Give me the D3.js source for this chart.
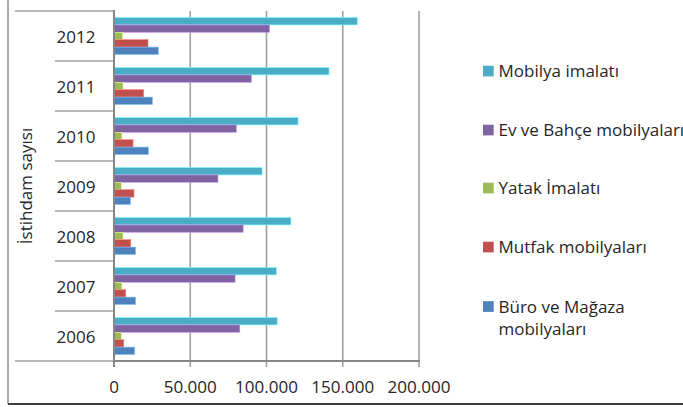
<!DOCTYPE html>
<html>
<head>
<meta charset="utf-8">
<script src="https://cdn.jsdelivr.net/npm/d3@7"></script>
<style>
  body { margin: 0; background: #fff; }
  svg text { font-family: "Open Sans", "Noto Sans", sans-serif; fill: #262626; }
</style>
</head>
<body>
<div id="chart"></div>
<script>
// years, top row first
var years = ["2012", "2011", "2010", "2009", "2008", "2007", "2006"];
var seriesNames = ["Mobilya imalatı", "Ev ve Bahçe mobilyaları", "Yatak İmalatı", "Mutfak mobilyaları", "Büro ve Mağaza mobilyaları"];
var seriesColors = ["#4bacc6", "#8064a2", "#9bbb59", "#c0504d", "#4f81bd"];

var mobilya  = [159500, 141000, 120700, 97100, 116000, 106500, 107000];
var evBahce  = [102000, 90100, 80300, 68200, 84700, 79400, 82500];
var yatak    = [5700, 5900, 5200, 4800, 5900, 5200, 4800];
var mutfak   = [22300, 19500, 12500, 13100, 11000, 7700, 6400];
var buro     = [29100, 25200, 22600, 10800, 14200, 14200, 13600];

var tickValues = [0, 50000, 100000, 150000, 200000];
var tickLabels = ["0", "50.000", "100.000", "150.000", "200.000"];

var allSeries = [mobilya, evBahce, yatak, mutfak, buro];

var W = 683, H = 407;
var svg = d3.select("#chart").append("svg")
  .attr("width", W).attr("height", H);

var x = d3.scaleLinear().domain([0, 200000]).range([114, 419]);
var y = d3.scaleBand().domain(years).range([11, 361]);
var yInner = d3.scaleBand().domain(seriesNames).range([0, y.bandwidth()])
  .paddingInner(0).paddingOuter(0.88);

// outer frame
svg.append("line").attr("x1", 8).attr("x2", 8).attr("y1", 0).attr("y2", 404)
  .attr("stroke", "#8c8c8c").attr("stroke-width", 1.5);
svg.append("line").attr("x1", 8).attr("x2", W).attr("y1", 404).attr("y2", 404)
  .attr("stroke", "#404040").attr("stroke-width", 2);

// gridlines + ticks
svg.selectAll(".grid").data(tickValues.slice(1)).enter().append("line")
  .attr("x1", function(d){ return x(d); }).attr("x2", function(d){ return x(d); })
  .attr("y1", 11).attr("y2", 367)
  .attr("stroke", "#a0a0a0").attr("stroke-width", 1.6);

// category separators
var bounds = years.map(function(d){ return y(d); }).concat([y.range()[1]]);
svg.selectAll(".sep").data(bounds).enter().append("line")
  .attr("x1", function(d, i){ return (i == 0 || i == bounds.length - 1) ? 15 : 55; })
  .attr("x2", 114)
  .attr("y1", function(d){ return d; }).attr("y2", function(d){ return d; })
  .attr("stroke", "#a0a0a0").attr("stroke-width", 1.6);

// bars
years.forEach(function(yr, i) {
  var g = svg.append("g").attr("transform", "translate(0," + y(yr) + ")");
  g.selectAll("rect").data(seriesNames).enter().append("rect")
    .attr("x", x(0))
    .attr("y", function(s){ return yInner(s); })
    .attr("width", function(s, k){ return x(allSeries[k][i]) - x(0); })
    .attr("height", yInner.bandwidth())
    .attr("fill", function(s, k){ return seriesColors[k]; })
    .attr("stroke", function(s, k){ return d3.color(seriesColors[k]).brighter(1.2); })
    .attr("stroke-width", 0.6);
});

// axis lines
svg.append("line").attr("x1", 114).attr("x2", 114).attr("y1", 10).attr("y2", 367)
  .attr("stroke", "#868686").attr("stroke-width", 2);
svg.append("line").attr("x1", 114).attr("x2", 420).attr("y1", 361).attr("y2", 361)
  .attr("stroke", "#868686").attr("stroke-width", 2);

// tick labels
svg.selectAll(".tl").data(tickValues).enter().append("text")
  .attr("x", function(d){ return x(d); }).attr("y", 393)
  .attr("text-anchor", "middle").attr("font-size", 17)
  .text(function(d, i){ return tickLabels[i]; });

// year labels
svg.selectAll(".yl").data(years).enter().append("text")
  .attr("x", 76).attr("y", function(d){ return y(d) + y.bandwidth() / 2 + 6.5; })
  .attr("text-anchor", "middle").attr("font-size", 17)
  .text(function(d){ return d; });

// outer category title
svg.append("text")
  .attr("transform", "translate(32,186) rotate(-90)")
  .attr("text-anchor", "middle").attr("font-size", 17)
  .text("İstihdam sayısı");

// legend
var legY = [71, 130, 188, 247, 306.5];
var leg = svg.selectAll(".leg").data(seriesNames).enter().append("g")
  .attr("transform", function(d, i){ return "translate(483," + legY[i] + ")"; });
leg.append("rect").attr("x", 0).attr("y", -5.3).attr("width", 10.7).attr("height", 10.7)
  .attr("fill", function(d, i){ return seriesColors[i]; });
leg.append("text").attr("x", 15.5).attr("y", 6).attr("font-size", 17)
  .each(function(d) {
    var t = d3.select(this);
    if (d == "Büro ve Mağaza mobilyaları") {
      t.append("tspan").attr("x", 15.5).text("Büro ve Mağaza");
      t.append("tspan").attr("x", 15.5).attr("dy", 22.7).text("mobilyaları");
    } else {
      t.text(d);
    }
  });
</script>
</body>
</html>
